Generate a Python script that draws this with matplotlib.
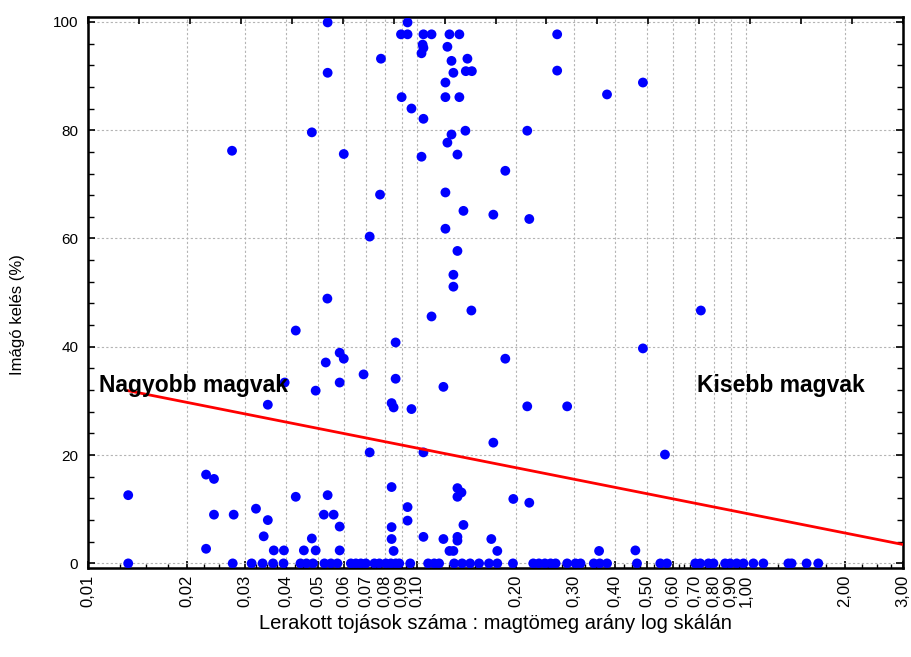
import numpy as np
import matplotlib
matplotlib.use("Agg")
import matplotlib.pyplot as plt
from matplotlib.ticker import FixedLocator, FixedFormatter, NullFormatter

plt.rcParams['font.family'] = ['Liberation Sans', 'DejaVu Sans']

# ---- data ----
x_zero = [0.01325, 0.02753, 0.03143, 0.03393, 0.03651, 0.03929, 0.04424, 0.04613,
          0.04828, 0.05231, 0.05475, 0.05728, 0.06295, 0.06519, 0.06750, 0.06989,
          0.07420, 0.07684, 0.08041, 0.08327, 0.08621, 0.08831, 0.09537, 0.1081,
          0.1128, 0.1167, 0.1297, 0.1371, 0.1450, 0.1544, 0.1655, 0.1754, 0.1957,
          0.2256, 0.2347, 0.2447, 0.2547, 0.2638, 0.2860, 0.3032, 0.3141, 0.3446,
          0.3593, 0.3781, 0.4662, 0.5489, 0.5749, 0.7011, 0.7259, 0.7691, 0.7963,
          0.8641, 0.8948, 0.9371, 0.9820, 1.053, 1.129, 1.345, 1.376, 1.528, 1.658]
y_zero = [0.0] * len(x_zero)

x_pos = [0.0535, 0.0936,
         0.0894, 0.0936, 0.1046, 0.1107, 0.1255, 0.1345, 0.2667,
         0.1040, 0.1046, 0.1237, 0.1032,
         0.0777, 0.1273, 0.1423,
         0.0535, 0.129, 0.1407, 0.1468, 0.2667,
         0.122, 0.486,
         0.0898, 0.122, 0.1345, 0.378,
         0.0962, 0.1046,
         0.1403, 0.2163, 0.0479, 0.1273, 0.1237,
         0.0274, 0.0599, 0.1032, 0.1327,
         0.1855, 0.0772, 0.122,
         0.1384, 0.1706, 0.2194, 0.122, 0.0718, 0.1327,
         0.129, 0.129, 0.0534, 0.1463, 0.729, 0.1107, 0.0428, 0.0861, 0.486,
         0.0582, 0.0599, 0.1855, 0.0528, 0.0688, 0.0861, 0.0582, 0.0396,
         0.1203, 0.0492,
         0.0837, 0.0849, 0.0352, 0.0962, 0.2163, 0.286,
         0.1706, 0.0718, 0.1046, 0.567,
         0.02285, 0.02415,
         0.0837, 0.1327, 0.1365, 0.1327,
         0.01325, 0.0535, 0.0428,
         0.1962, 0.2194, 0.0936, 0.0324,
         0.02415, 0.02772, 0.0521, 0.0558,
         0.0352, 0.0936, 0.0837, 0.0582, 0.1384,
         0.0342, 0.1046, 0.1327, 0.0479, 0.0837, 0.1203, 0.1682, 0.1327,
         0.02285, 0.0367, 0.0394, 0.0453, 0.0492, 0.0582, 0.0849, 0.1255, 0.129,
         0.1754, 0.3576, 0.461]
y_pos = [99.9, 99.9,
         97.7, 97.7, 97.7, 97.7, 97.7, 97.7, 97.7,
         95.8, 95.2, 95.4, 94.2,
         93.2, 92.8, 93.2,
         90.6, 90.6, 90.9, 90.9, 91.0,
         88.8, 88.8,
         86.1, 86.1, 86.1, 86.6,
         84.0, 82.1,
         79.9, 79.9, 79.6, 79.2, 77.7,
         76.2, 75.6, 75.1, 75.5,
         72.5, 68.1, 68.5,
         65.1, 64.4, 63.6, 61.8, 60.35, 57.7,
         53.3, 51.1, 48.9, 46.7, 46.7, 45.6, 43.0, 40.8, 39.7,
         38.9, 37.8, 37.8, 37.1, 34.9, 34.1, 33.4, 33.4,
         32.6, 31.9,
         29.6, 28.8, 29.3, 28.5, 29.0, 29.0,
         22.3, 20.5, 20.5, 20.1,
         16.4, 15.6,
         14.1, 13.9, 13.1, 12.3,
         12.6, 12.6, 12.3,
         11.9, 11.2, 10.4, 10.1,
         9.0, 9.0, 9.0, 9.0,
         8.0, 7.9, 6.7, 6.8, 7.1,
         5.0, 4.9, 4.9, 4.6, 4.5, 4.5, 4.5, 4.2,
         2.7, 2.4, 2.4, 2.4, 2.4, 2.4, 2.3, 2.3, 2.3,
         2.3, 2.3, 2.4]

# regression line: y = intercept + slope * log10(x)
fit_intercept = 9.24
fit_slope = -12.06
fit_x_range = [0.01325, 3.0]

x_ticks = [0.01, 0.02, 0.03, 0.04, 0.05, 0.06, 0.07, 0.08, 0.09, 0.10,
           0.20, 0.30, 0.40, 0.50, 0.60, 0.70, 0.80, 0.90, 1.00, 2.00, 3.00]
x_tick_labels = ["0,01", "0,02", "0,03", "0,04", "0,05", "0,06", "0,07", "0,08", "0,09", "0,10",
                 "0,20", "0,30", "0,40", "0,50", "0,60", "0,70", "0,80", "0,90", "1,00", "2,00", "3,00"]
y_ticks = [0, 20, 40, 60, 80, 100]
y_tick_labels = ["0", "20", "40", "60", "80", "100"]

# ---- figure ----
fig = plt.figure(figsize=(9.11, 6.57), dpi=100)
ax = fig.add_axes([88/911, 1-568/657, (903-88)/911, (568-17)/657])
ax.set_xscale('log')
ax.set_xlim(0.01, 3.0)
ax.set_ylim(-0.85, 100.9)

ax.xaxis.set_major_locator(FixedLocator(x_ticks))
ax.xaxis.set_major_formatter(FixedFormatter(x_tick_labels))
minor = []
for a, b in zip(x_ticks[:-1], x_ticks[1:]):
    minor += [a + (b - a) * k / 4 for k in (1, 2, 3)]
ax.xaxis.set_minor_locator(FixedLocator(minor))
ax.xaxis.set_minor_formatter(NullFormatter())
ax.yaxis.set_major_locator(FixedLocator(y_ticks))
ax.yaxis.set_major_formatter(FixedFormatter(y_tick_labels))
ax.yaxis.set_minor_locator(FixedLocator(np.arange(0, 101, 4)))

ax.grid(True, which='major', color='#b4b4b4', linestyle=(0, (2, 2)), linewidth=0.8)
ax.set_axisbelow(True)

for s in ax.spines.values():
    s.set_linewidth(1.8)
    s.set_color('black')

ax.tick_params(axis='x', which='major', direction='in', length=5, width=1.2,
               labelrotation=90, labelsize=12, pad=5)
ax.tick_params(axis='x', which='minor', direction='in', length=3, width=1.0)
ax.tick_params(axis='y', which='major', direction='in', length=5, width=1.2,
               labelsize=11, right=True, pad=7)
ax.tick_params(axis='y', which='minor', direction='in', length=4, width=1.0, right=True)

# top axis with evenly spaced ticks
ax2 = ax.twiny()
ax2.set_xlim(0, 16)
ax2.set_xticks(np.arange(0, 17))
ax2.tick_params(axis='x', direction='in', length=5, width=1.2, labeltop=False)
ax2.set_xticklabels([])

ax.scatter(x_zero + x_pos, y_zero + y_pos, s=50, color='#0000ff', edgecolors='none', zorder=3, clip_on=False)

xf = np.logspace(np.log10(fit_x_range[0]), np.log10(fit_x_range[1]), 50)
ax.plot(xf, fit_intercept + fit_slope * np.log10(xf), color='#ff0000', lw=2, zorder=4)

ax.text(0.0108, 31.7, "Nagyobb magvak", fontsize=16.5, fontweight='bold', va='baseline', ha='left', zorder=6)
ax.text(0.7073, 31.7, "Kisebb magvak", fontsize=16.5, fontweight='bold', va='baseline', ha='left', zorder=6)

ax.set_xlabel("Lerakott tojások száma : magtömeg arány log skálán", fontsize=14.5)
ax.xaxis.set_label_coords(0.5, (568 - 614) / 551)
ax.set_ylabel("Imágó kelés (%)", fontsize=12)
ax.yaxis.set_label_coords((25 - 88) / 815, 0.46)

fig.savefig("out.png", dpi=100)
